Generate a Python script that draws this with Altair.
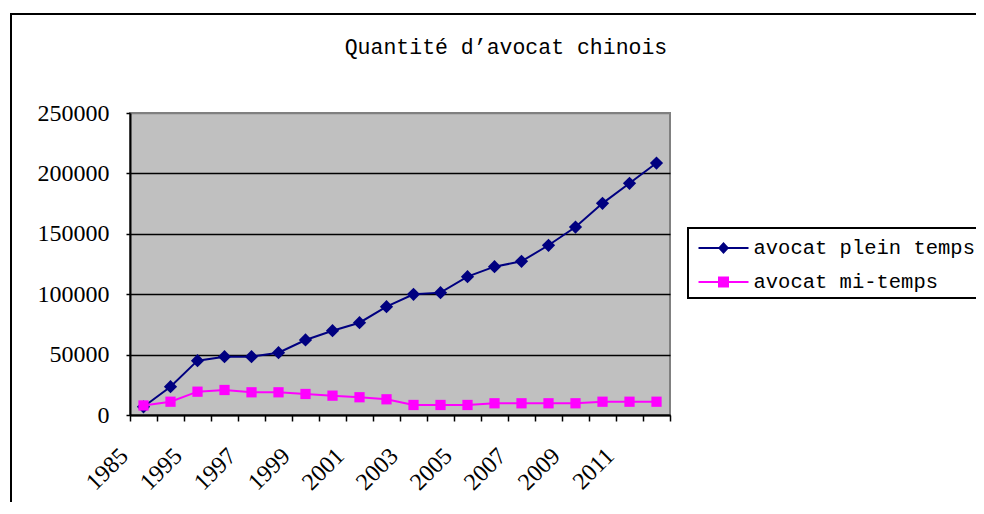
import json
import altair as alt
import pandas as pd

years = ["1985", "1990", "1995", "1996", "1997", "1998", "1999", "2000", "2001", "2002",
         "2003", "2004", "2005", "2006", "2007", "2008", "2009", "2010", "2011", "2012"]
full_time = [6800, 23400, 45000, 48300, 48300, 51600, 62100, 69800, 76400, 89700,
             99900, 101300, 114500, 122800, 127200, 140500, 155600, 175200, 191800, 208600]
part_time = [7900, 11000, 19300, 20700, 18800, 18800, 17400, 16000, 14700, 13000,
             8300, 8300, 8300, 9700, 9700, 9700, 9700, 11000, 11000, 11000]
shown_labels = ["1985", "1995", "1997", "1999", "2001", "2003", "2005", "2007", "2009", "2011"]
series_names = ["avocat plein temps", "avocat mi-temps"]
series_colors = ["#000080", "#FF00FF"]
y_ticks = [0, 50000, 100000, 150000, 200000, 250000]
title_text = "Quantité d’avocat chinois"

# legend symbols: line + marker (custom paths in unit box)
legend_shapes = [
    "M-0.633,-0.067L2.7,-0.067L2.7,0.067L-0.633,0.067Z M1.033,-0.4L1.4,0L1.033,0.4L0.667,0Z",
    "M-0.633,-0.067L2.7,-0.067L2.7,0.067L-0.633,0.067Z M0.667,-0.367L1.4,-0.367L1.4,0.367L0.667,0.367Z",
]

df = pd.DataFrame({
    "year": years * 2,
    "value": full_time + part_time,
    "series": [series_names[0]] * len(years) + [series_names[1]] * len(years),
})

label_expr = "indexof(" + json.dumps(shown_labels) + ", datum.value) >= 0 ? datum.label : ''"

x_enc = alt.X(
    "year:O",
    sort=years,
    scale=alt.Scale(type="band", domain=years, paddingInner=0, paddingOuter=0),
    axis=alt.Axis(
        title=None, labelExpr=label_expr, labelAngle=-45, labelAlign="right",
        labelBaseline="middle", labelFont="Liberation Serif", labelFontSize=24,
        labelColor="black", labelPadding=31, labelOffset=-19, labelOverlap=False,
        bandPosition=1, tickExtra=True, tickSize=6, tickColor="black", tickWidth=1.5,
        domainColor="black", domainWidth=2, grid=False,
    ),
)
y_enc = alt.Y(
    "value:Q",
    scale=alt.Scale(domain=[0, 250000], nice=False),
    axis=alt.Axis(
        title=None, values=y_ticks, format="d", labelFont="Liberation Serif",
        labelFontSize=24, labelColor="black", labelPadding=17, tickSize=4,
        tickColor="black", tickWidth=1.5, domainColor="black", domainWidth=2,
        grid=True, gridWidth=1.5,
        gridColor={"condition": {"test": "datum.value >= 250000", "value": "#808080"},
                   "value": "#000000"},
    ),
)

base = alt.Chart(df)

frame = alt.Chart(pd.DataFrame({"f": [0]})).mark_rect(
    fillOpacity=0, stroke="black", strokeWidth=2
).encode(x=alt.value(-119), x2=alt.value(1200), y=alt.value(-99), y2=alt.value(800))

layers = [frame]
markers = ["diamond", "square"]
sizes = [175, 105]
for name, col, shp, sz in zip(series_names, series_colors, markers, sizes):
    sub = base.transform_filter(alt.datum.series == name)
    layers.append(sub.mark_line(color=col, strokeWidth=2).encode(x=x_enc, y=y_enc))
    layers.append(sub.mark_point(filled=True, opacity=1, color=col, shape=shp, size=sz,
                                 strokeWidth=0).encode(x=x_enc, y=y_enc))

legend_layer = base.mark_point(filled=True, size=0, opacity=1).encode(
    x=x_enc, y=y_enc,
    color=alt.Color("series:N", scale=alt.Scale(domain=series_names, range=series_colors),
                    legend=alt.Legend(
                        title=None, orient="none", legendX=558, legendY=115,
                        strokeColor="black", padding=5, symbolSize=900,
                        symbolStrokeWidth=0, symbolOpacity=1, rowPadding=8,
                        labelOffset=30.5, labelFont="Liberation Mono", labelFontSize=20.5,
                        labelColor="black", labelLimit=500,
                    )),
    shape=alt.Shape("series:N", scale=alt.Scale(domain=series_names, range=legend_shapes)),
)
layers.append(legend_layer)

chart = alt.layer(*layers).properties(
    width=540,
    height=302,
    autosize=alt.AutoSizeParams(type="none"),
    padding={"left": 122, "top": 105, "right": 306, "bottom": 87},
    title=alt.TitleParams(
        text=title_text, font="Liberation Mono", fontSize=21.5, fontWeight="normal",
        color="black", anchor="middle", frame="group", dx=106, offset=0, dy=62,
        baseline="alphabetic",
    ),
).configure_view(
    fill="#C0C0C0", stroke="#808080", strokeWidth=2
).configure_legend(
    strokeWidth=2
)

chart.save("out.html", embed_options={"renderer": "svg", "actions": False})
